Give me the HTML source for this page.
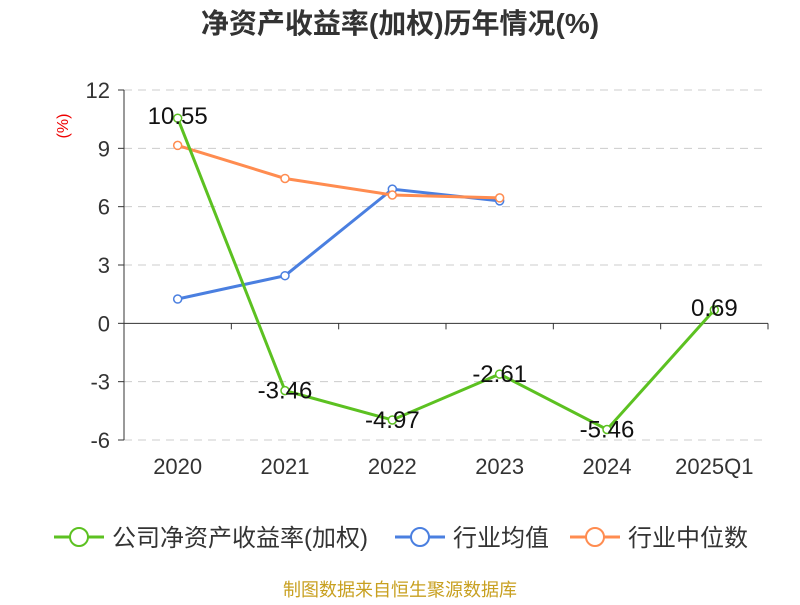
<!DOCTYPE html>
<html><head><meta charset="utf-8"><style>
body{margin:0;background:#fff;font-family:"Liberation Sans","Noto Sans CJK SC",sans-serif;}
</style></head><body>
<svg width="800" height="600" xmlns="http://www.w3.org/2000/svg" font-family="Liberation Sans, Noto Sans CJK SC, sans-serif">
<text x="400" y="33" text-anchor="middle" font-size="28" font-weight="bold" fill="#333">净资产收益率(加权)历年情况(%)</text>
<text x="68" y="126" font-size="16" fill="#e00" transform="rotate(-90 68 126)" text-anchor="middle">(%)</text>
<g id="grid"></g><g id="axes"></g><g id="series"></g>
<g font-size="24" fill="#333">
<g><line x1="54" y1="537" x2="104" y2="537" stroke="#5cc121" stroke-width="3"/><circle cx="79" cy="537" r="9" fill="#fff" stroke="#5cc121" stroke-width="2"/><text x="112" y="546">公司净资产收益率(加权)</text></g>
<g><line x1="395" y1="537" x2="445" y2="537" stroke="#4a7fe0" stroke-width="3"/><circle cx="420" cy="537" r="9" fill="#fff" stroke="#4a7fe0" stroke-width="2"/><text x="453" y="546">行业均值</text></g>
<g><line x1="570" y1="537" x2="620" y2="537" stroke="#ff8c50" stroke-width="3"/><circle cx="595" cy="537" r="9" fill="#fff" stroke="#ff8c50" stroke-width="2"/><text x="628" y="546">行业中位数</text></g>
</g>
<text x="400" y="596" text-anchor="middle" font-size="18" fill="#c8a020">制图数据来自恒生聚源数据库</text>
</svg>
<script>
const categories=["2020","2021","2022","2023","2024","2025Q1"];
const companyValues=[10.55,-3.46,-4.97,-2.61,-5.46,0.69];
const avgValues=[1.25,2.45,6.9,6.3];
const medianValues=[9.15,7.45,6.6,6.45];
const yTicks=[12,9,6,3,0,-3,-6];
const NS="http://www.w3.org/2000/svg";
const x0=124,x1=768,band=(x1-x0)/categories.length;
const X=i=>x0+band*(i+0.5);
const Y=v=>90+(12-v)*(350/18);
function mk(t,a,p){const e=document.createElementNS(NS,t);for(const k in a)e.setAttribute(k,a[k]);p.appendChild(e);return e;}
const grid=document.getElementById('grid'),axes=document.getElementById('axes'),ser=document.getElementById('series');
yTicks.forEach(v=>{
 if(v!==0){const l=mk('line',{x1:x0,x2:x1,y1:Y(v),y2:Y(v),stroke:'#ccc','stroke-dasharray':'8,6'},grid);
 
 }
 const t=mk('text',{x:x0-14,y:Y(v)+8,'text-anchor':'end','font-size':22,fill:'#333'},axes);t.textContent=v;
 
 
 mk('line',{x1:x0-6,x2:x0,y1:Y(v),y2:Y(v),stroke:'#333'},axes);
});
const ya=mk('line',{x1:x0,x2:x0,y1:Y(12),y2:Y(-6),stroke:'#333'},axes);


const xa=mk('line',{x1:x0,x2:x1,y1:Y(0),y2:Y(0),stroke:'#333'},axes);


for(let i=0;i<=categories.length;i++)mk('line',{x1:x0+band*i,x2:x0+band*i,y1:Y(0),y2:Y(0)+6,stroke:'#333'},axes);
categories.forEach((c,i)=>{const t=mk('text',{x:X(i),y:474,'text-anchor':'middle','font-size':22,fill:'#333'},axes);t.textContent=c;
 
 });
function line(vals,color,name,labels){
 const g=mk('g',{},ser);
 
 
 mk('polyline',{points:vals.map((v,i)=>X(i)+','+Y(v)).join(' '),fill:'none',stroke:color,'stroke-width':3},g);
 vals.forEach((v,i)=>{const c=mk('circle',{cx:X(i),cy:Y(v),r:4,fill:'#fff',stroke:color,'stroke-width':1.5},g);
  
  
  if(labels){const t=mk('text',{x:X(i),y:Y(v)+(v>=0?6:8),'text-anchor':'middle','font-size':24,fill:'#111'},g);t.textContent=v.toFixed(2);
   
   }});
}
line(avgValues,'#4a7fe0','industry-avg-line',false);
line(medianValues,'#ff8c50','industry-median-line',false);
line(companyValues,'#5cc121','company-roe-line',true);
</script>
</body></html>
